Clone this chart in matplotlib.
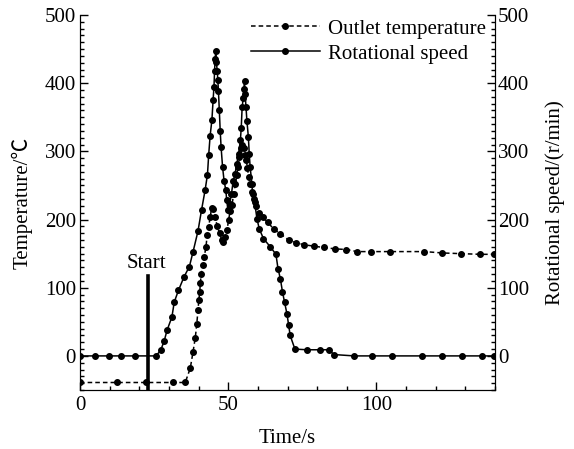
import matplotlib
matplotlib.use('Agg')
import matplotlib.pyplot as plt
from matplotlib.ticker import MultipleLocator

plt.rcParams['font.family'] = ['Liberation Serif', 'Noto Sans CJK SC', 'DejaVu Serif']
plt.rcParams['font.size'] = 15
plt.rcParams['mathtext.fontset'] = 'stix'

# outlet temperature (left axis), time in s
temp_time = [0, 12.4, 22.3, 31.3, 35.5, 37.2, 38.1, 38.9, 39.4, 39.8, 40.1, 40.4,
             40.6, 40.9, 41.4, 41.9, 42.5, 42.9, 43.4, 43.9, 44.4, 45.0, 45.6, 46.3,
             47.1, 47.8, 48.4, 49.0, 49.6, 50.1, 50.7, 51.3, 51.8, 52.4, 52.9, 53.3,
             53.8, 54.3, 54.7, 55.2, 55.7, 56.1, 56.5, 56.9, 57.4, 58.0, 58.6, 59.5,
             60.3, 61.6, 63.4, 65.3, 67.6, 70.4, 73.0, 75.7, 78.8, 82.2, 86.1, 89.9,
             93.5, 98.0, 104.7, 116.2, 122.2, 128.4, 135.1, 139.6]
temp_vals = [-39, -39, -39, -39, -39, -18, 5, 27, 47, 67, 82, 94,
             107, 120, 133, 145, 160, 177, 189, 203, 217, 216, 204, 190,
             180, 170, 167, 174, 184, 199, 213, 221, 238, 252, 265, 277,
             291, 305, 310, 305, 294, 287, 275, 262, 252, 240, 230, 220,
             210, 203, 196, 186, 179, 170, 166, 163, 161, 159, 157, 156,
             153, 153, 153, 153, 151, 150, 149, 149]

# rotational speed (right axis)
speed_time = [0, 5.1, 9.9, 13.9, 18.6, 25.6, 27.2, 28.4, 29.4, 31.0, 31.8, 33.2,
              35.1, 36.9, 38.1, 39.8, 41.0, 42.2, 43.0, 43.4, 43.9, 44.5, 44.9, 45.2,
              45.4, 45.6, 45.8, 46.0, 46.3, 46.5, 46.7, 47.0, 47.3, 47.6, 48.1, 48.6,
              49.2, 49.5, 49.9, 50.5, 51.1, 51.7, 52.3, 52.9, 53.5, 54.1, 54.4, 54.7,
              55.1, 55.3, 55.5, 55.7, 56.0, 56.3, 56.8, 57.1, 57.4, 58.0, 58.2, 58.9,
              59.7, 60.5, 61.9, 64.2, 66.1, 66.8, 67.6, 68.3, 69.0, 69.8, 70.4, 70.9,
              72.5, 76.6, 81.1, 84.0, 85.6, 92.5, 98.5, 105.3, 115.4, 122.2, 129.0,
              135.7, 139.6]
speed_vals = [0, 0, 0, 0, 0, 0, 8, 22, 38, 57, 79, 96,
              116, 131, 152, 183, 214, 243, 266, 294, 323, 346, 375, 395,
              418, 436, 447, 431, 418, 404, 389, 360, 330, 306, 277, 257,
              243, 228, 214, 223, 238, 257, 267, 282, 296, 316, 335, 365,
              379, 392, 403, 384, 365, 345, 321, 296, 277, 252, 238, 226,
              201, 186, 172, 160, 149, 128, 113, 94, 79, 62, 45, 30,
              10, 9, 9, 9, 2, 0, 0, 0, 0, 0, 0,
              0, 0]

start_time = 23.1
start_top = 117

fig = plt.figure(figsize=(5.74, 4.49), dpi=100)
ax = fig.add_axes([80 / 574, 1 - 390 / 449, 415 / 574, 375 / 449])
ax2 = ax.twinx()

l1, = ax.plot(temp_time, temp_vals, color='black', lw=1.1, ls=(0, (3, 2)),
              marker='o', ms=4, label='Outlet temperature')
l2, = ax2.plot(speed_time, speed_vals, color='black', lw=1.1, ls='-',
               marker='o', ms=4, label='Rotational speed')

# start marker
ax.plot([start_time, start_time], [-50, start_top], color='black', lw=2.6)
ax.text(start_time - 0.6, start_top + 4, 'Start', ha='center', va='bottom')

for a in (ax, ax2):
    a.set_xlim(0, 140)
    a.set_ylim(-50, 500)
    a.spines['top'].set_visible(False)
    a.yaxis.set_major_locator(MultipleLocator(100))
    a.yaxis.set_minor_locator(MultipleLocator(10))
ax.xaxis.set_major_locator(MultipleLocator(50))
ax.xaxis.set_minor_locator(MultipleLocator(10))

ax.set_yticks([0, 100, 200, 300, 400, 500])
ax2.set_yticks([0, 100, 200, 300, 400, 500])

ax.tick_params(which='both', direction='in', width=1)
ax.tick_params(which='major', length=6, pad=3)
ax.tick_params(which='minor', length=3)
ax.tick_params(axis='x', pad=4)
ax2.tick_params(which='both', direction='in', width=1, pad=2)
ax2.tick_params(which='major', length=6)
ax2.tick_params(which='minor', length=3)

ax.set_xlabel('Time/s')
ax.xaxis.set_label_coords(0.5, -0.104)
ax.set_ylabel('Temperature/℃')
ax.yaxis.set_label_coords(-0.113, 0.5)
ax2.set_ylabel('Rotational speed/(r/min)')
ax2.yaxis.set_label_coords(1.12, 0.5)

ax2.legend([l1, l2], ['Outlet temperature', 'Rotational speed'], loc='upper right',
           bbox_to_anchor=(0.988, 1.0), frameon=False, numpoints=1,
           handlelength=3.3, handletextpad=0.4, labelspacing=0.25,
           borderpad=0, borderaxespad=0.2)

fig.savefig('out.png', dpi=100)
